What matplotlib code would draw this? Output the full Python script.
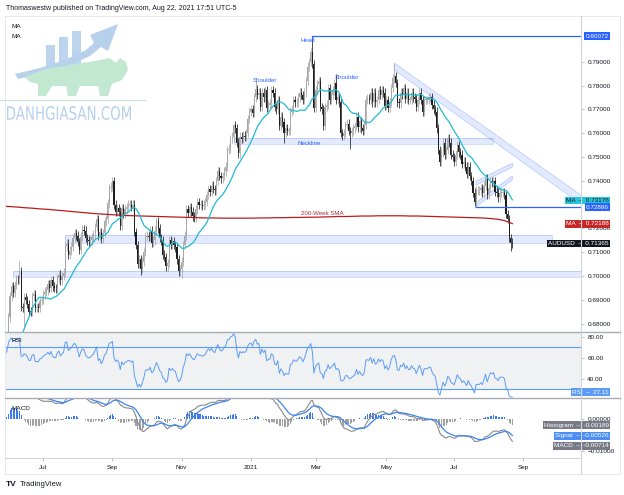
import numpy as np
import pandas as pd
import matplotlib
matplotlib.use("Agg")
import matplotlib.pyplot as plt
import matplotlib.transforms as mtransforms
from matplotlib.patches import Rectangle, Polygon, PathPatch
from matplotlib.lines import Line2D
from matplotlib.textpath import TextPath
from matplotlib.font_manager import FontProperties

plt.rcParams['font.family'] = ['Liberation Sans', 'DejaVu Sans']

W, H = 624, 495

# ------------------------------------------------------------------ data
FIRST_DATE = "2020-04-01"
VIEW_START = "2020-06-01"
FIRST_OPEN = 0.6050

close_2020_04 = [0.6085, 0.6070, 0.5985, 0.6110, 0.6190, 0.6200, 0.6340, 0.6350, 0.6350, 0.6420, 0.6320,
                 0.6350, 0.6360, 0.6350, 0.6300, 0.6340, 0.6370, 0.6390, 0.6450, 0.6480, 0.6580, 0.6510]
close_2020_05 = [0.6410, 0.6420, 0.6450, 0.6400, 0.6500, 0.6530, 0.6500, 0.6470, 0.6470, 0.6450, 0.6410,
                 0.6530, 0.6550, 0.6580, 0.6550, 0.6530, 0.6560, 0.6640, 0.6625, 0.6630, 0.6670]
close_2020_06 = [0.6826, 0.6915, 0.6957, 0.6930, 0.6962, 0.6988, 0.6986, 0.7020, 0.6869, 0.6866, 0.6910,
                 0.6900, 0.6883, 0.6850, 0.6849, 0.6915, 0.6925, 0.6866, 0.6867, 0.6865, 0.6895, 0.6900]
close_2020_07 = [0.6923, 0.6934, 0.6940, 0.6965, 0.6950, 0.6983, 0.6956, 0.6950, 0.6948, 0.6990, 0.7006,
                 0.6982, 0.7000, 0.7014, 0.7125, 0.7136, 0.7090, 0.7106, 0.7123, 0.7160, 0.7180, 0.7170, 0.7143]
close_2020_08 = [0.7110, 0.7165, 0.7195, 0.7190, 0.7160, 0.7150, 0.7145, 0.7150, 0.7163, 0.7175, 0.7205,
                 0.7240, 0.7170, 0.7185, 0.7155, 0.7180, 0.7230, 0.7240, 0.7305, 0.7370, 0.7375]
close_2020_09 = [0.7400, 0.7300, 0.7270, 0.7285, 0.7270, 0.7210, 0.7285, 0.7260, 0.7280, 0.7290, 0.7300,
                 0.7300, 0.7290, 0.7300, 0.7185, 0.7130, 0.7050, 0.7070, 0.7030, 0.7060, 0.7100, 0.7165]
close_2020_10 = [0.7170, 0.7165, 0.7190, 0.7140, 0.7150, 0.7190, 0.7230, 0.7200, 0.7160, 0.7150, 0.7090,
                 0.7080, 0.7040, 0.7055, 0.7150, 0.7130, 0.7145, 0.7130, 0.7120, 0.7070, 0.7020, 0.7030]
close_2020_11 = [0.7060, 0.7130, 0.7170, 0.7280, 0.7265, 0.7290, 0.7270, 0.7250, 0.7245, 0.7280, 0.7310,
                 0.7300, 0.7300, 0.7295, 0.7300, 0.7310, 0.7340, 0.7365, 0.7355, 0.7380, 0.7365]
close_2020_12 = [0.7360, 0.7400, 0.7440, 0.7420, 0.7410, 0.7420, 0.7440, 0.7460, 0.7530, 0.7535, 0.7575,
                 0.7585, 0.7635, 0.7620, 0.7560, 0.7515, 0.7585, 0.7575, 0.7590, 0.7585, 0.7600, 0.7660, 0.7690]
close_2021_01 = [0.7700, 0.7685, 0.7750, 0.7785, 0.7760, 0.7770, 0.7710, 0.7770, 0.7750, 0.7780, 0.7705,
                 0.7720, 0.7725, 0.7780, 0.7770, 0.7710, 0.7700, 0.7740, 0.7630, 0.7670, 0.7645]
close_2021_02 = [0.7600, 0.7620, 0.7610, 0.7610, 0.7690, 0.7700, 0.7740, 0.7730, 0.7730, 0.7750, 0.7770,
                 0.7760, 0.7740, 0.7770, 0.7820, 0.7880, 0.7900, 0.7940, 0.7890, 0.7705]
close_2021_03 = [0.7780, 0.7805, 0.7820, 0.7710, 0.7700, 0.7630, 0.7710, 0.7720, 0.7790, 0.7740, 0.7760,
                 0.7780, 0.7810, 0.7740, 0.7750, 0.7730, 0.7600, 0.7590, 0.7600, 0.7635, 0.7640, 0.7610, 0.7600]
close_2021_04 = [0.7610, 0.7620, 0.7630, 0.7670, 0.7625, 0.7650, 0.7620, 0.7610, 0.7635, 0.7740, 0.7745,
                 0.7740, 0.7770, 0.7730, 0.7770, 0.7730, 0.7740, 0.7780, 0.7760, 0.7780, 0.7770, 0.7715]
close_2021_05 = [0.7740, 0.7705, 0.7730, 0.7790, 0.7830, 0.7840, 0.7810, 0.7730, 0.7725, 0.7770, 0.7760,
                 0.7790, 0.7745, 0.7770, 0.7740, 0.7740, 0.7770, 0.7750, 0.7745, 0.7710, 0.7740]
close_2021_06 = [0.7770, 0.7740, 0.7690, 0.7740, 0.7740, 0.7740, 0.7750, 0.7750, 0.7720, 0.7700, 0.7690,
                 0.7620, 0.7530, 0.7480, 0.7520, 0.7560, 0.7510, 0.7530, 0.7580, 0.7560, 0.7510, 0.7500]
close_2021_07 = [0.7480, 0.7510, 0.7550, 0.7520, 0.7510, 0.7470, 0.7480, 0.7460, 0.7430, 0.7460, 0.7420,
                 0.7400, 0.7350, 0.7310, 0.7360, 0.7360, 0.7360, 0.7370, 0.7350, 0.7380, 0.7410, 0.7340]
close_2021_08 = [0.7370, 0.7400, 0.7390, 0.7400, 0.7355, 0.7350, 0.7330, 0.7350, 0.7350, 0.7350, 0.7340,
                 0.7260, 0.7240, 0.7160, 0.7140, 0.71365]

high_marks = {"2020-06-10": 0.7064, "2020-09-01": 0.7414, "2020-10-09": 0.7243, "2020-12-17": 0.7640,
              "2021-01-06": 0.7820, "2021-02-25": 0.8007, "2021-03-18": 0.7849, "2021-05-10": 0.7891}
low_marks = {"2020-06-15": 0.6777, "2020-09-25": 0.7006, "2020-11-02": 0.6991, "2021-02-01": 0.7560,
             "2021-03-31": 0.7532, "2021-07-20": 0.7295, "2021-08-20": 0.7106}

sma200w_start = "2020-05-25"
sma200w = [0.7294, 0.7292, 0.7290, 0.7287, 0.7285, 0.7282, 0.7280, 0.7277, 0.7274, 0.7271, 0.7268, 0.7265,
           0.7262, 0.7260, 0.7258, 0.7256, 0.7254, 0.7253, 0.7252, 0.7251, 0.7250, 0.7249, 0.7248, 0.7247,
           0.7246, 0.7245, 0.7244, 0.7244, 0.7243, 0.7243, 0.7243, 0.7243, 0.7243, 0.7244, 0.7244, 0.7245,
           0.7245, 0.7246, 0.7246, 0.7247, 0.7247, 0.7248, 0.7249, 0.7250, 0.7250, 0.7251, 0.7252, 0.7252,
           0.7253, 0.7253, 0.7253, 0.7253, 0.7252, 0.7252, 0.7251, 0.7250, 0.7249, 0.7248, 0.7247, 0.7246,
           0.7245, 0.7244, 0.7242, 0.7239, 0.7233, 0.7220]

MA_LEN, RSI_LEN = 20, 14
MACD_FAST, MACD_SLOW, MACD_SIG = 12, 26, 9

# 0.73000 and 0.80000 are hidden behind price labels in the reference
price_ticks = [0.68, 0.69, 0.70, 0.71, 0.72, 0.74, 0.75, 0.76, 0.77, 0.78, 0.79]
rsi_ticks = [40, 60, 80]
macd_ticks = [0.0, -0.01]
month_ticks = ["2020-07-01", "2020-09-01", "2020-11-02", "2021-01-01", "2021-03-01", "2021-05-03",
               "2021-07-01", "2021-09-01"]
month_labels = ["Jul", "Sep", "Nov", "2021", "Mar", "May", "Jul", "Sep"]

# drawings (date, price anchors)
zones = [("2020-12-17", "2021-08-05", 0.7555, 0.7580),
         ("2020-07-21", "2021-09-27", 0.7137, 0.7171),
         ("2020-06-04", "2021-12-31", 0.6997, 0.7022)]
channel = [("2021-05-10", 0.7895, 0.7866), ("2021-10-22", 0.7338, 0.7300)]
flags = [(("2021-07-21", 0.7390), ("2021-08-23", 0.7466)),
         (("2021-07-21", 0.7300), ("2021-08-23", 0.7412))]
hlines = [("2021-02-25", 0.80072), ("2021-07-20", 0.72896)]
pattern_text = [("Head", "2021-02-22", 0.7990), ("Shoulder", "2021-01-14", 0.7823),
                ("Shoulder", "2021-03-29", 0.7836), ("Neckline", "2021-02-23", 0.7557)]
sma_text = ("200-Week SMA", "2021-03-05", 0.7261)

price_labels = [("MA", "0.73176", 0.73176, '#26c6da', '#131722'),
                ("", "0.72896", 0.72896, '#2962ff', 'white'),
                ("MA", "0.72188", 0.72188, '#c62828', 'white'),
                ("AUDUSD", "0.71365", 0.71365, '#131722', 'white'),
                ("", "0.80072", 0.80072, '#2962ff', 'white')]
rsi_label = ("RSI", "27.11", 27.11, '#5b9cf6')
macd_labels = [("Histogram", "-0.00189", -0.00189, '#787b86'),
               ("Signal", "-0.00526", -0.00526, '#4a8df5'),
               ("MACD", "-0.00714", -0.00714, '#787b86')]

# ------------------------------------------------------------------ prep
closes = np.array(close_2020_04 + close_2020_05 + close_2020_06 + close_2020_07 + close_2020_08 +
                  close_2020_09 + close_2020_10 + close_2020_11 + close_2020_12 + close_2021_01 +
                  close_2021_02 + close_2021_03 + close_2021_04 + close_2021_05 + close_2021_06 +
                  close_2021_07 + close_2021_08)
n = len(closes)
all_days = pd.bdate_range(FIRST_DATE, "2021-12-31")
origin = all_days.get_loc(pd.Timestamp(VIEW_START))


def pos(d):
    return all_days.get_loc(pd.Timestamp(d)) - origin


xs = np.arange(n) - origin
opens = np.concatenate([[FIRST_OPEN], closes[:-1]])
WICK = 0.0018
highs = np.maximum(opens, closes) + WICK
lows = np.minimum(opens, closes) - WICK
for d, v in high_marks.items():
    i = pos(d) + origin
    highs[i] = max(v, max(opens[i], closes[i]))
for d, v in low_marks.items():
    i = pos(d) + origin
    lows[i] = min(v, min(opens[i], closes[i]))

s = pd.Series(closes)
ma = s.rolling(MA_LEN).mean().values
delta = s.diff()
up = delta.clip(lower=0).ewm(alpha=1 / RSI_LEN, adjust=False).mean()
dn = (-delta.clip(upper=0)).ewm(alpha=1 / RSI_LEN, adjust=False).mean()
rsi = (100 - 100 / (1 + up / dn)).values
macd = (s.ewm(span=MACD_FAST, adjust=False).mean() - s.ewm(span=MACD_SLOW, adjust=False).mean())
signal = macd.ewm(span=MACD_SIG, adjust=False).mean()
hist = (macd - signal).values
macd = macd.values
signal = signal.values

# ------------------------------------------------------------------ figure
fig = plt.figure(figsize=(W / 100, H / 100), dpi=100)
fig.patch.set_facecolor('white')


def rect(x0, y0, x1, y1):
    return [x0 / W, 1 - y1 / H, (x1 - x0) / W, (y1 - y0) / H]


def fx(x):
    return x / W


def fy(y):
    return 1 - y / H


XL = (-2.2, 363.6)
ax = fig.add_axes(rect(5, 16, 581, 332))
ax_rsi = fig.add_axes(rect(5, 332, 581, 398))
ax_macd = fig.add_axes(rect(5, 398, 581, 458))
TXT = '#131722'
for a in (ax, ax_rsi, ax_macd):
    a.set_xlim(*XL)
    for sp in a.spines.values():
        sp.set_visible(False)
    a.yaxis.tick_right()
    a.tick_params(axis='y', length=2.5, width=0.6, color='#b2b5be', labelsize=4.6, labelcolor=TXT, pad=2)
    a.tick_params(axis='x', length=0, labelbottom=False)
    a.set_facecolor('none')

# ---------------- main pane
ax.set_ylim(0.67647, 0.80924)
ax.set_yticks(price_ticks)
ax.set_yticklabels([f"{t:.5f}" for t in price_ticks])

blue = '#2962ff'
for d0, d1, lo, hi in zones:
    ax.add_patch(Rectangle((pos(d0), lo), pos(d1) - pos(d0), hi - lo, fc=blue, alpha=0.13, ec='none', zorder=1))
    ax.add_patch(Rectangle((pos(d0), lo), pos(d1) - pos(d0), hi - lo, fc='none', ec=blue, alpha=0.25, lw=0.6,
                           zorder=1))
(c0, u0, l0), (c1, u1, l1) = channel
poly = [(pos(c0), u0), (pos(c1), u1), (pos(c1), l1), (pos(c0), l0)]
ax.add_patch(Polygon(poly, closed=True, fc=blue, alpha=0.13, ec='none', zorder=1))
ax.add_patch(Polygon(poly, closed=True, fc='none', ec=blue, alpha=0.25, lw=0.6, zorder=1))
FT = 0.0008
for (d0, p0), (d1, p1) in flags:
    poly = [(pos(d0), p0 + FT), (pos(d1), p1 + FT), (pos(d1), p1 - FT), (pos(d0), p0 - FT)]
    ax.add_patch(Polygon(poly, closed=True, fc=blue, alpha=0.13, ec='none', zorder=1))
    ax.add_patch(Polygon(poly, closed=True, fc='none', ec=blue, alpha=0.3, lw=0.6, zorder=1))

up_mask = closes >= opens
col_up, col_dn = '#a6a6a6', '#1e1e1e'
for mask, col in ((up_mask, col_up), (~up_mask, col_dn)):
    ax.vlines(xs[mask], lows[mask], highs[mask], color=col, lw=0.55, zorder=2)
    ax.bar(xs[mask], np.maximum(np.abs(closes - opens)[mask], 0.0003), bottom=np.minimum(opens, closes)[mask],
           width=0.7, color=col, lw=0, zorder=2)

wk_x = np.array([pos(sma200w_start) + 5 * k for k in range(len(sma200w))], dtype=float)
wk_x[-1] = xs[-1]
ax.plot(wk_x, sma200w, color='#b71c1c', lw=0.9, zorder=3)
ax.plot(xs, ma, color='#1fbcd2', lw=0.9, zorder=3)

for d, p in hlines:
    ax.plot([pos(d), XL[1]], [p, p], color=blue, lw=0.9, zorder=3, solid_capstyle='butt')
ax.plot([pos(hlines[0][0])] * 2, [hlines[0][1], hlines[0][1] - 0.0012], color=blue, lw=0.9, zorder=3)

for t, d, p in pattern_text:
    ax.text(pos(d), p, t, color=blue, fontsize=4.4, ha='center', va='center', zorder=4)
ax.text(pos(sma_text[1]), sma_text[2], sma_text[0], color='#b22833', fontsize=4.4, ha='center', va='center',
        zorder=4)


def value_box(a, name, val, y, fc, tc):
    tr = mtransforms.blended_transform_factory(fig.transFigure, a.transData)
    txt = f"{name}  \u2013  {val}" if name else val
    a.text(fx(609), y, txt, transform=tr, ha='right', va='center', fontsize=4.6, color=tc, clip_on=False,
           zorder=10, bbox=dict(boxstyle='square,pad=0.22', fc=fc, ec='none'))


for name, val, y, fc, tc in price_labels:
    value_box(ax, name, val, y, fc, tc)

# ---------------- RSI pane
ax_rsi.set_ylim(21.5, 84.8)
ax_rsi.fill_between(XL, 30, 84.8, color='#f0f1f3', lw=0, zorder=0)
ax_rsi.axhline(70, color='#5b9cf6', lw=0.8, zorder=1)
ax_rsi.axhline(30, color='#5b9cf6', lw=0.8, zorder=1)
ax_rsi.plot(xs, rsi, color='#5b9cf6', lw=0.7, zorder=2)
ax_rsi.set_yticks(rsi_ticks)
ax_rsi.set_yticklabels([f"{t:.2f}" for t in rsi_ticks])
value_box(ax_rsi, rsi_label[0], rsi_label[1], rsi_label[2], rsi_label[3], 'white')

# ---------------- MACD pane
ax_macd.set_ylim(-0.0122, 0.0066)
hcol = np.where(hist >= 0, '#3b78f2', '#a0a0a0')
ax_macd.bar(xs, hist, width=0.65, color=hcol, lw=0, zorder=1)
ax_macd.plot(xs, macd, color='#8a8a8a', lw=0.8, zorder=2)
ax_macd.plot(xs, signal, color='#3d85f0', lw=0.9, zorder=3)
ax_macd.set_yticks(macd_ticks)
ax_macd.set_yticklabels(["0.00000", "\u22120.01000"])
ys = []
for name, val, y, fc in macd_labels:
    if ys and y > ys[-1] - 0.0031:
        y = ys[-1] - 0.0031
    ys.append(y)
    value_box(ax_macd, name, val, y, fc, 'white')

ax_macd.set_xticks([pos(d) for d in month_ticks])
ax_macd.set_xticklabels(month_labels)
ax_macd.tick_params(axis='x', length=2, width=0.6, color='#b2b5be', labelbottom=True, labelsize=4.6,
                    labelcolor=TXT, pad=3)

# ---------------- frame & separators
GR = '#d1d4dc'
fig.add_artist(Rectangle((fx(5), fy(474)), fx(615), 458 / H, transform=fig.transFigure, fc='none', ec='#e6e8ee',
                         lw=0.7))
for yy in (332, 398):
    fig.add_artist(Line2D([fx(5), fx(620)], [fy(yy), fy(yy)], color='#a9acb5', lw=1.0))
fig.add_artist(Line2D([fx(5), fx(581)], [fy(458), fy(458)], color=GR, lw=0.8))
fig.add_artist(Line2D([fx(581), fx(581)], [fy(16), fy(474)], color=GR, lw=0.8))

# ---------------- texts
fig.text(fx(6), fy(9), "Thomaswestw published on TradingView.com, Aug 22, 2021 17:51 UTC-5", fontsize=5.0,
         color=TXT, va='center', ha='left')
fig.text(fx(11), fy(26), "MA", fontsize=4.6, color=TXT, va='center')
fig.text(fx(11), fy(36), "MA", fontsize=4.6, color=TXT, va='center')
fig.text(fx(11), fy(341), "RSI", fontsize=4.6, color=TXT, va='center')
fig.text(fx(11), fy(408), "MACD", fontsize=4.6, color=TXT, va='center')
fig.text(fx(6), fy(484), "TV", fontsize=6, color=TXT, va='center', fontweight='bold')
fig.text(fx(20), fy(484), "TradingView", fontsize=5.5, color=TXT, va='center')

# ---------------- watermark
px = mtransforms.Affine2D().scale(1, -1).translate(0, H).scale(1 / 100) + fig.dpi_scale_trans
for (x0, y0, x1, y1) in [(46, 45, 55, 73), (59, 37, 68, 70), (72, 31, 81, 66)]:
    fig.add_artist(Rectangle((x0, y0), x1 - x0, y1 - y0, transform=px, fc='#bcd4ee', ec='none', zorder=0))
arrow = [(15, 74), (40, 68), (65, 60), (86, 50), (94, 43), (90, 35), (118, 24), (108, 51), (101, 47), (90, 56),
         (68, 66), (42, 74), (18, 79)]
fig.add_artist(Polygon(arrow, closed=True, transform=px, fc='#b7d0ec', ec='none', zorder=0))
bull = [(25, 77), (45, 69), (70, 65), (95, 61), (110, 58), (116, 63), (120, 58), (126, 62), (128, 70), (122, 80),
        (112, 84), (108, 96), (100, 96), (98, 86), (80, 86), (76, 96), (68, 96), (66, 86), (52, 86), (46, 96),
        (38, 96), (38, 84), (30, 82)]
fig.add_artist(Polygon(bull, closed=True, transform=px, fc='#c3e8d1', ec='none', zorder=0))
fig.add_artist(Line2D([0, 145], [100, 100], transform=px, color='#c3e8d1', lw=0.8, zorder=0))
tp = TextPath((0, 0), "DANHGIASAN.COM", size=10, prop=FontProperties(family="DejaVu Sans"))
bb = tp.get_extents()
wm_tr = (mtransforms.Affine2D().translate(-bb.x0, -bb.y0)
         .scale((131 - 7) / bb.width, (120 - 106) / bb.height).translate(7, H - 120).scale(1 / 100)
         + fig.dpi_scale_trans)
fig.add_artist(PathPatch(tp, transform=wm_tr, fc='#b7d0ec', ec='none', zorder=0))

fig.savefig("out.png", dpi=100, facecolor='white')
